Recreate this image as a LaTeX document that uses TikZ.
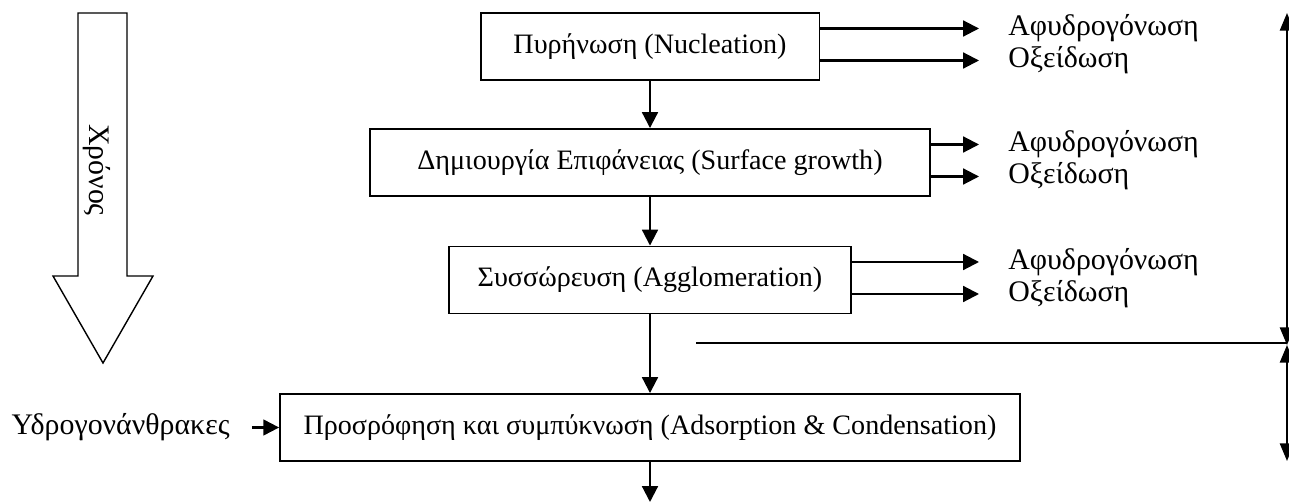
\documentclass[tikz,border=0pt]{standalone}
\usepackage{fontspec}
\setmainfont{Liberation Serif}
\usetikzlibrary{arrows.meta, positioning, calc}

\tikzset{
  box/.style={draw, line width=1.1pt, minimum height=1.34cm, inner sep=0pt,
    font=\fontsize{16}{19}\selectfont},
  lbl/.style={inner sep=0pt, font=\fontsize{17}{20}\selectfont},
  flow/.style={line width=1.2pt, -{Triangle[length=9pt,width=9pt]}},
  spanline/.style={line width=1.2pt, {Triangle[length=10pt,width=8pt]}-{Triangle[length=10pt,width=8pt]}},
}

\begin{document}
\begin{tikzpicture}[x=0.02cm, y=-0.02cm]
  \useasboundingbox (0,0) rectangle (1289,503);

  % time arrow
  \draw[line width=0.8pt] (78,13) -- (127,13) -- (127,276) -- (153,276)
    -- (103,363) -- (53,276) -- (78,276) -- cycle;
  \node[lbl, rotate=-90] (time) at (97,170) {Χρόνος};

  % stages
  \node[box, minimum width=6.78cm] (nucl) at (650,46.5) {Πυρήνωση (Nucleation)};
  \node[box, minimum width=11.22cm] (surf) at (650,162.5) {Δημιουργία Επιφάνειας (Surface growth)};
  \node[box, minimum width=8.04cm] (aggl) at (650,280) {Συσσώρευση (Agglomeration)};
  \node[box, minimum width=14.8cm] (ads) at (650,427.5) {Προσρόφηση και συμπύκνωση (Adsorption \& Condensation)};
  \coordinate (out) at (650,502);

  \draw[flow] (nucl) -- (surf);
  \draw[flow] (surf) -- (aggl);
  \draw[flow] (aggl) -- (ads);
  \draw[flow] (ads) -- (out);

  % side reactions
  \foreach \b in {nucl,surf,aggl} {
    \node[lbl, anchor=west] (\b-deh) at ($(\b.center)+(358,-18)$) {Αφυδρογόνωση};
    \node[lbl, anchor=west] (\b-ox) at ($(\b.center)+(358,14)$) {Οξείδωση};
    \draw[flow] (\b.east |- \b-deh.west) -- ([xshift=-0.58cm]\b-deh.west);
    \draw[flow] (\b.east |- \b-ox.west) -- ([xshift=-0.58cm]\b-ox.west);
  }

  % hydrocarbons in
  \node[lbl, anchor=east] (hc) at (230,427.5) {Υδρογονάνθρακες};
  \draw[flow] ([xshift=0.44cm]hc.east) -- (ads.west);

  % ranges on the right
  \coordinate (top) at (1287,13);
  \coordinate (mid) at (1287,345);
  \coordinate (bot) at (1287,461);
  \coordinate (split) at (696,343);
  \draw[spanline] (top) -- (mid);
  \draw[spanline] (mid) -- (bot);
  \draw[line width=1.2pt] (split) -- (split -| mid);
\end{tikzpicture}
\end{document}
